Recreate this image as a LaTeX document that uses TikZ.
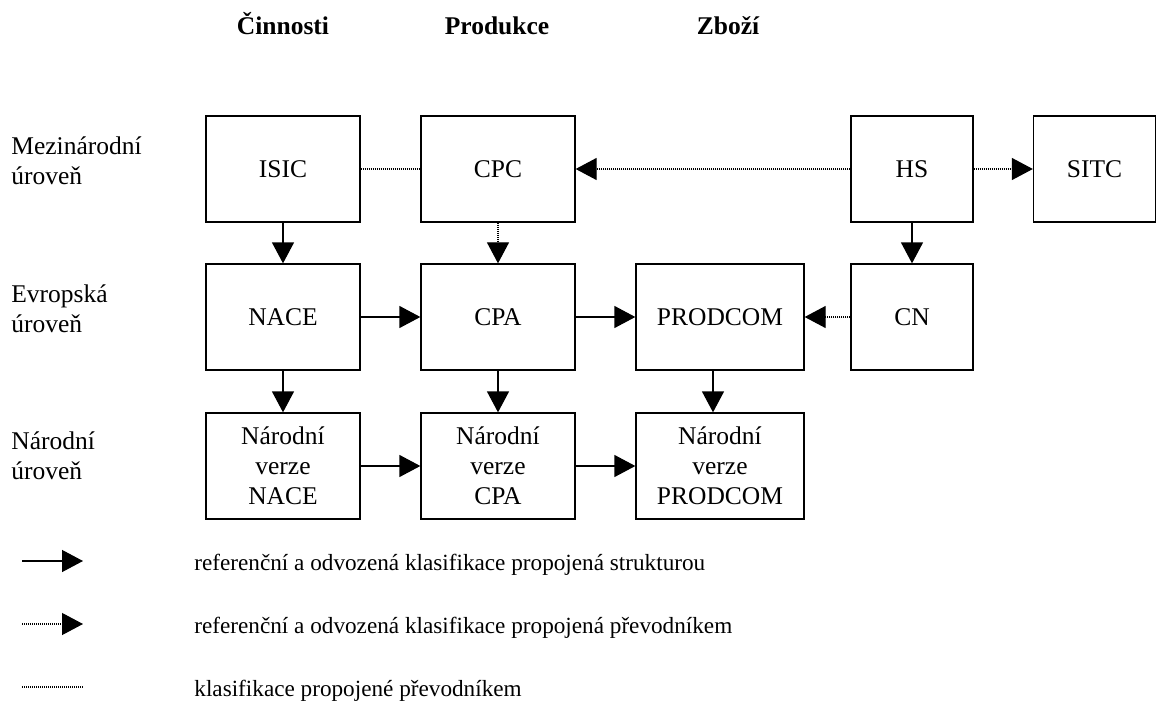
\documentclass[tikz,border=0pt]{standalone}
\usepackage{fontspec}
\setmainfont{Liberation Serif}
\usepackage{tikz}
\usetikzlibrary{arrows.meta,calc}
\newcommand{\bh}{53pt}
\newcommand{\txt}{\fontsize{12.75}{15}\selectfont}

\begin{document}
\begin{tikzpicture}[x=0.5pt,y=-0.5pt,
  box/.style={draw,line width=0.65pt,minimum height=\bh,inner sep=0pt,align=center,font=\txt},
  lbl/.style={anchor=west,inner sep=0pt,align=left,font=\txt},
  head/.style={anchor=base,inner sep=0pt,font=\bfseries\txt},
  leg/.style={anchor=base west,inner sep=0pt,font=\fontsize{11.6}{14}\selectfont},
  link/.style={line width=0.65pt,-{Triangle[length=10.5pt,width=11pt]}},
  conv/.style={line width=0.6pt,dash pattern=on 0.5pt off 0.5pt},
  convlink/.style={conv,-{Triangle[length=10.5pt,width=11pt]}}]
\useasboundingbox (0,0) rectangle (1156,701);
\node[head] (hcin) at (283,35) {Činnosti};
\node[head] (hpro) at (497,35) {Produkce};
\node[head] (hzbo) at (728,35) {Zboží};
\node[lbl] (lmez) at (11,161) {Mezinárodní\\úroveň};
\node[lbl] (levr) at (11,309) {Evropská\\úroveň};
\node[lbl] (lnar) at (11,456) {Národní\\úroveň};
\node[box,minimum width=77pt] (isic) at (283,169) {ISIC};
\node[box,minimum width=77pt] (cpc) at (498,169) {CPC};
\node[box,minimum width=61pt] (hs) at (912,169) {HS};
\node[box,minimum width=61pt] (sitc) at (1094.5,169) {SITC};
\node[box,minimum width=77pt] (nace) at (283,317) {NACE};
\node[box,minimum width=77pt] (cpa) at (498,317) {CPA};
\node[box,minimum width=84pt] (prodcom) at (720,317) {PRODCOM};
\node[box,minimum width=61pt] (cn) at (912,317) {CN};
\node[box,minimum width=77pt] (nnace) at (283,466) {Národní\\verze\\NACE};
\node[box,minimum width=77pt] (ncpa) at (498,466) {Národní\\verze\\CPA};
\node[box,minimum width=84pt] (nprodcom) at (720,466) {Národní\\verze\\PRODCOM};
\draw[conv] (isic) -- (cpc);
\draw[convlink] (hs) -- (cpc);
\draw[convlink] (hs) -- (sitc);
\draw[link] (isic) -- (nace);
\draw[convlink] (cpc) -- (cpa);
\draw[link] (hs) -- (cn);
\draw[link] (nace) -- (cpa);
\draw[link] (cpa) -- (prodcom);
\draw[convlink] (cn) -- (prodcom);
\draw[link] (nace) -- (nnace);
\draw[link] (cpa) -- (ncpa);
\draw[link] ([xshift=-3.5pt]prodcom.south) -- ([xshift=-3.5pt]nprodcom.north);
\draw[link] (nnace) -- (ncpa);
\draw[link] (ncpa) -- (nprodcom);
\coordinate (s1) at (22,561);
\coordinate (e1) at (83,561);
\coordinate (s2) at (22,624);
\coordinate (e2) at (83,624);
\coordinate (s3) at (22,687);
\coordinate (e3) at (83,687);
\draw[link] (s1) -- (e1);
\draw[convlink] (s2) -- (e2);
\draw[conv] (s3) -- (e3);
\node[leg] (t1) at (194,570) {referenční a odvozená klasifikace propojená strukturou};
\node[leg] (t2) at (194,633) {referenční a odvozená klasifikace propojená převodníkem};
\node[leg] (t3) at (194,696) {klasifikace propojené převodníkem};
\end{tikzpicture}
\end{document}
